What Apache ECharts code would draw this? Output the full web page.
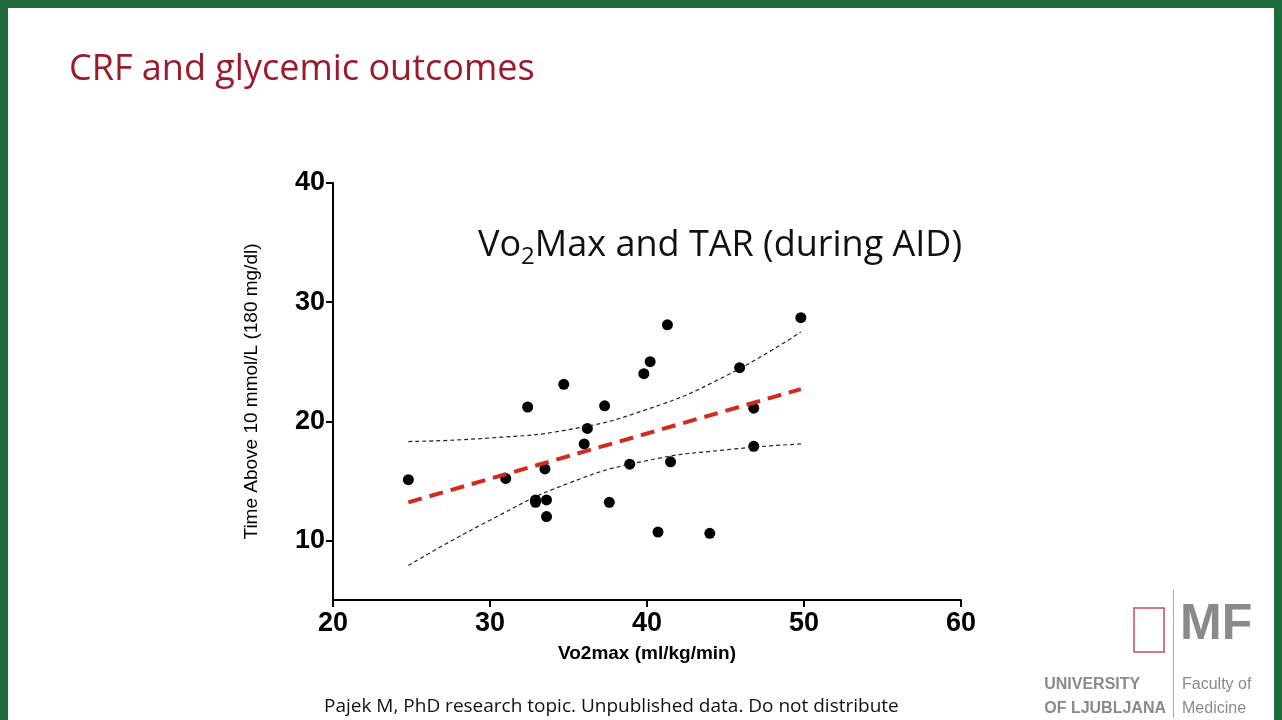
<!DOCTYPE html>
<html><head><meta charset="utf-8">
<script src="https://cdn.jsdelivr.net/npm/echarts@6/dist/echarts.min.js"></script>
<style>
html,body{margin:0;padding:0;background:#1d6a3c;}
#slide{position:absolute;left:8px;top:8px;width:1266px;height:712px;background:#fff;}
#chart{width:1266px;height:712px;}
</style></head>
<body><div id="slide"><div id="chart"></div></div>
<script>
// scatter points: [Vo2max, TAR %]
const points = [
  [24.8, 15.1], [31.0, 15.2], [32.4, 21.2], [33.5, 16.0], [32.9, 13.4], [32.9, 13.2],
  [33.6, 13.4], [33.6, 12.0], [34.7, 23.1], [36.2, 19.4], [36.0, 18.1], [37.3, 21.3],
  [37.6, 13.2], [38.9, 16.4], [39.8, 24.0], [40.2, 25.0], [40.7, 10.7], [41.3, 28.1],
  [41.5, 16.6], [44.0, 10.6], [45.9, 24.5], [46.8, 21.1], [46.8, 17.9], [49.8, 28.7]
];
const fitLine = [[24.8, 13.2], [49.8, 22.7]];
const upperBand = [[24.8, 18.3], [30, 18.6], [35, 19.3], [40, 21.0], [45, 23.8], [49.8, 27.5]];
const lowerBand = [[24.8, 7.9], [30, 11.7], [35, 14.8], [40, 16.7], [45, 17.6], [49.8, 18.1]];
const xTicks = [20, 30, 40, 50, 60];
const yTicks = [10, 20, 30, 40];

const chart = echarts.init(document.getElementById('chart'));
const bold = {fontFamily: 'Liberation Sans, Arial', fontWeight: 'bold', color: '#000'};
const option = {
  animation: false,
  grid: {left: 325, top: 175, width: 628, height: 417},
  xAxis: {
    type: 'value', min: 20, max: 60, interval: 10,
    axisLine: {lineStyle: {color: '#000', width: 2}},
    axisTick: {show: true, length: 7, lineStyle: {color: '#000', width: 2}},
    axisLabel: Object.assign({fontSize: 27, margin: 10}, bold),
    splitLine: {show: false},
    name: 'Vo2max (ml/kg/min)', nameLocation: 'middle', nameGap: 44,
    nameTextStyle: Object.assign({fontSize: 19}, bold)
  },
  yAxis: {
    type: 'value', min: 5, max: 40,
    axisLine: {show: true, lineStyle: {color: '#000', width: 2}},
    axisTick: {show: true, length: 7, customValues: yTicks, lineStyle: {color: '#000', width: 2}},
    axisLabel: Object.assign({fontSize: 27, margin: 8, customValues: yTicks}, bold),
    splitLine: {show: false},
    name: 'Time Above 10 mmol/L (180 mg/dl)', nameLocation: 'middle', nameGap: 72,
    nameTextStyle: {fontSize: 19, fontFamily: 'Liberation Sans, Arial', color: '#000'}
  },
  series: [
    {type: 'line', data: upperBand, smooth: true, symbol: 'none',
     lineStyle: {color: '#222', width: 1.2, type: [4, 3]}},
    {type: 'line', data: lowerBand, smooth: true, symbol: 'none',
     lineStyle: {color: '#222', width: 1.2, type: [4, 3]}},
    {type: 'line', data: fitLine, symbol: 'none',
     lineStyle: {color: '#d42a1e', width: 4, type: [14, 8]}},
    {type: 'scatter', data: points, symbolSize: 11, itemStyle: {color: '#000', opacity: 1}}
  ],
  graphic: [
    {type: 'text', left: 61, top: 44, style: {text: 'CRF and glycemic outcomes', font: '36px "Open Sans", sans-serif', fill: '#9b1b2a'}},
    {type: 'text', left: 470, top: 220, style: {
      text: '{a|Vo}{s|2}{a|Max and TAR (during AID)}',
      rich: {a: {font: '36px "Open Sans", sans-serif', fill: '#111'}, s: {font: '24px "Open Sans", sans-serif', fill: '#111', padding: [22, 0, 0, 0]}}}},
    {type: 'text', left: 316, top: 689, style: {text: 'Pajek M, PhD research topic. Unpublished data. Do not distribute', font: '19px "Open Sans", sans-serif', fill: '#111'}},
    {type: 'rect', shape: {x: 1165, y: 582, width: 1, height: 128}, style: {fill: '#aaa'}},
    {type: 'text', left: 1172, top: 592, style: {text: 'MF', font: 'bold 50px "Liberation Sans Narrow", "Liberation Sans", sans-serif', fill: '#8a8a8a'}},
    {type: 'text', right: 108, top: 665, style: {text: 'UNIVERSITY\nOF LJUBLJANA', font: 'bold 16px "Liberation Sans Narrow", sans-serif', fill: '#8a8a8a', align: 'right', lineHeight: 24}},
    {type: 'text', left: 1174, top: 665, style: {text: 'Faculty of\nMedicine', font: '16px "Liberation Sans Narrow", sans-serif', fill: '#8a8a8a', lineHeight: 24}},
    {type: 'rect', shape: {x: 1126, y: 600, width: 30, height: 44}, style: {fill: 'none', stroke: '#c05060', lineWidth: 1.5}}
  ]
};
chart.setOption(option);
</script>
</body></html>
